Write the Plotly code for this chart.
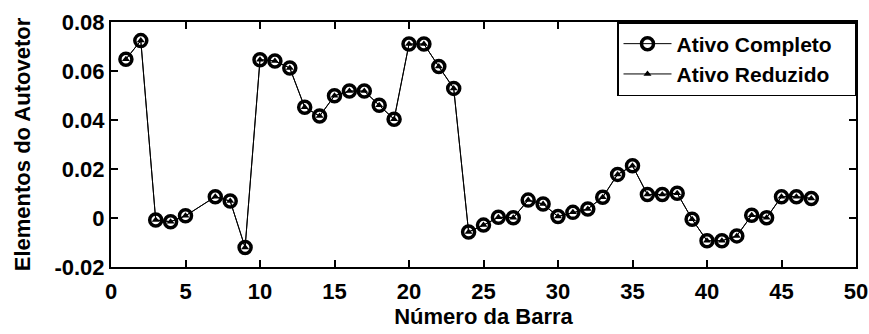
import plotly.graph_objects as go

barra = [1, 2, 3, 4, 5, 7, 8, 9, 10, 11, 12, 13, 14, 15, 16, 17, 18, 19, 20,
         21, 22, 23, 24, 25, 26, 27, 28, 29, 30, 31, 32, 33, 34, 35, 36, 37,
         38, 39, 40, 41, 42, 43, 44, 45, 46, 47]
ativo_completo = [0.0648, 0.0724, -0.0008, -0.0015, 0.0009, 0.0087, 0.0069,
                  -0.0120, 0.0646, 0.0641, 0.0612, 0.0452, 0.0416, 0.0499,
                  0.0518, 0.0518, 0.0460, 0.0403, 0.0710, 0.0710, 0.0618,
                  0.0529, -0.0057, -0.0029, 0.0003, 0.0001, 0.0073, 0.0057,
                  0.0006, 0.0023, 0.0037, 0.0085, 0.0178, 0.0213, 0.0096,
                  0.0096, 0.0101, -0.0005, -0.0093, -0.0093, -0.0073, 0.0011,
                  0.0001, 0.0087, 0.0087, 0.0080]
ativo_reduzido = list(ativo_completo)

x_ticks = [0, 5, 10, 15, 20, 25, 30, 35, 40, 45, 50]
y_ticks = [-0.02, 0, 0.02, 0.04, 0.06, 0.08]
y_tick_labels = ["-0.02", "0", "0.02", "0.04", "0.06", "0.08"]

FONT = "Liberation Sans, Arial, sans-serif"
PAD = "\u00a0\u00a0\u00a0"

fig = go.Figure()
fig.add_trace(go.Scatter(
    x=barra, y=ativo_completo, mode="lines+markers",
    name="<b>Ativo Completo</b>" + PAD,
    line=dict(color="black", width=1),
    marker=dict(symbol="circle-open", size=12, color="black",
                line=dict(color="black", width=3.5)),
))
fig.add_trace(go.Scatter(
    x=barra, y=ativo_reduzido, mode="lines+markers",
    name="<b>Ativo Reduzido</b>" + PAD,
    line=dict(color="black", width=1),
    marker=dict(symbol="triangle-up", size=7, color="black"),
))

axis_common = dict(
    showgrid=False, zeroline=False, showline=True, linecolor="black",
    linewidth=2, mirror="ticks", ticks="inside", ticklen=7,
    tickcolor="black", tickwidth=1.5, automargin=False,
    tickfont=dict(family=FONT, size=22, color="black", weight="bold"),
)

fig.update_layout(
    width=869, height=334,
    margin=dict(l=111, r=13, t=22, b=67, autoexpand=False),
    paper_bgcolor="white", plot_bgcolor="white",
    showlegend=True,
    legend=dict(
        x=1, y=1, xanchor="right", yanchor="top",
        bgcolor="white", bordercolor="black", borderwidth=1.5,
        font=dict(family=FONT, size=21, color="black"),
        itemwidth=48, tracegroupgap=0,
    ),
    xaxis=dict(
        range=[0, 50], tickvals=x_ticks, ticklabelstandoff=4,
        title=dict(text="<b>Número da Barra</b>", standoff=4,
                   font=dict(family=FONT, size=22, color="black")),
        **axis_common,
    ),
    yaxis=dict(
        range=[-0.02, 0.08], tickvals=y_ticks, ticktext=y_tick_labels,
        title=dict(text="<b>Elementos do Autovetor</b>", standoff=18,
                   font=dict(family=FONT, size=22, color="black")),
        **axis_common,
    ),
)

fig.write_html("out.html")
